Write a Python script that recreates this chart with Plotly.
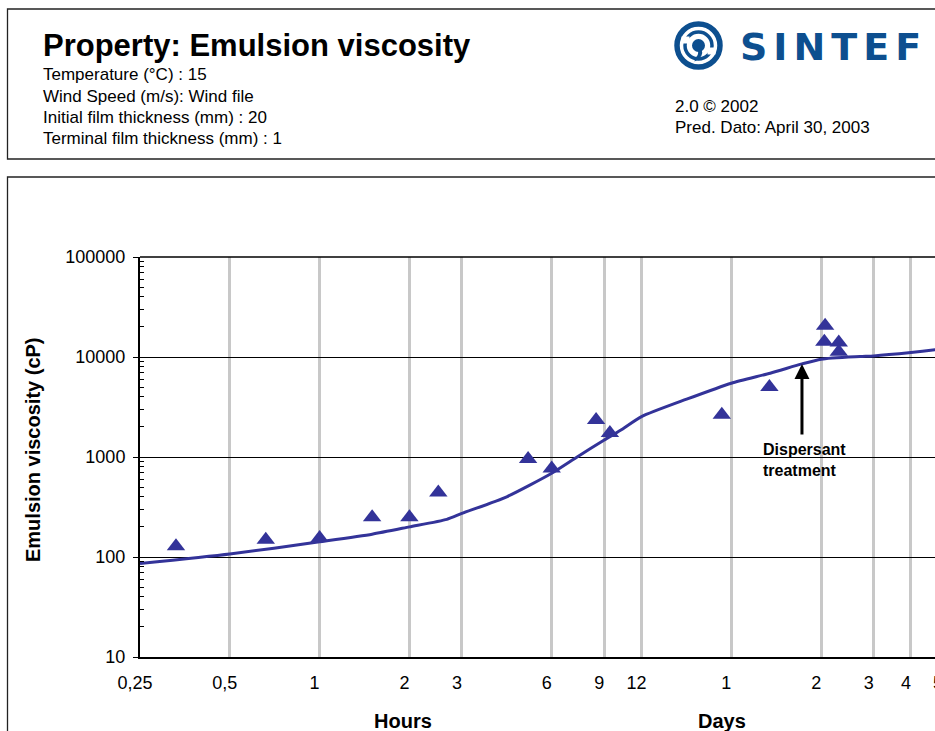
import math
import plotly.graph_objects as go

# ---------------- data ----------------
obs_hours = [0.33, 0.66, 1.0, 1.5, 2.0, 2.5, 5.0, 6.0, 8.45, 9.4, 22.3, 32.2, 49.5, 49.2, 55.0, 55.0]
obs_visc = [128, 149, 155, 250, 250, 441, 955, 767, 2349, 1739, 2653, 5023, 20500, 14190, 14000, 11270]

model_hours = [0.25, 0.5, 1.0, 1.5, 2.0, 2.67, 3.0, 4.24, 6.0, 7.3, 9.0, 10.2, 12.0, 17.0,
               24.0, 32.4, 41.4, 48.0, 64.8, 72.0, 96.0, 115.6, 124.0]
model_visc = [86, 107, 142, 169, 200, 238, 273, 400, 687, 1000, 1480, 1850, 2535, 3784,
              5470, 6886, 8530, 9510, 10100, 10260, 11090, 11800, 12000]

x_tick_vals = [0.25, 0.5, 1, 2, 3, 6, 9, 12, 24, 48, 72, 96, 120]
x_tick_text = ["0,25", "0,5", "1", "2", "3", "6", "9", "12", "1", "2", "3", "4", "5"]
y_tick_vals = [10, 100, 1000, 10000, 100000]
y_tick_text = ["10", "100", "1000", "10000", "100000"]

dispersant_hours = 41.4
dispersant_visc = 8530

title = "Property: Emulsion viscosity"
info_left = ["Temperature (°C) : 15", "Wind Speed (m/s): Wind file",
             "Initial film thickness (mm) : 20", "Terminal film thickness (mm) : 1"]
info_right = ["2.0 © 2002", "Pred. Dato: April 30, 2003"]

# ---------------- layout geometry (page px; body margin removed) ----------------
OFF = 0
W, H = 935, 731
ML, MR, MT, MB = 140 - OFF, 0, 257 - OFF, 74
PW = W - ML - MR
PH = H - MT - MB
X_MAX_H = 0.25 * 2 ** (PW / 89.8)   # hours at right edge of plot area

def px(x):
    return (x - OFF - ML) / PW

def py(y):
    return (H - MB - (y - OFF)) / PH

BLUE = "#333399"
LOGO = "#0d4f8f"
FONT = "Liberation Sans, Arial, sans-serif"

fig = go.Figure()

fig.add_trace(go.Scatter(
    x=model_hours, y=model_visc, mode="lines",
    line=dict(color=BLUE, width=3, shape="spline", smoothing=0.6),
    showlegend=False, hoverinfo="skip"))

fig.add_trace(go.Scatter(
    x=obs_hours, y=obs_visc, mode="markers",
    marker=dict(symbol="triangle-up", size=16, color=BLUE, line=dict(width=0)),
    showlegend=False))

minor_vals = [m * 10 ** d for d in range(1, 5) for m in range(2, 10)]

fig.update_xaxes(
    type="log",
    range=[math.log10(0.25), math.log10(X_MAX_H)],
    tickmode="array", tickvals=x_tick_vals, ticktext=x_tick_text,
    ticks="", showgrid=True, gridcolor="#c8c8c8", gridwidth=2.5,
    showline=True, linecolor="black", linewidth=2,
    tickfont=dict(family=FONT, size=18, color="black"),
    ticklabelshift=-5, ticklabelstandoff=8,
    zeroline=False,
)
fig.update_yaxes(
    type="log", range=[1, 5],
    tickmode="array", tickvals=y_tick_vals, ticktext=y_tick_text,
    ticks="outside", ticklen=5, tickcolor="black", tickwidth=1,
    showgrid=True, gridcolor="black", gridwidth=1,
    showline=True, linecolor="black", linewidth=2,
    tickfont=dict(family=FONT, size=18, color="black"),
    ticklabelstandoff=4,
    minor=dict(tickmode="array", tickvals=minor_vals, ticks="inside",
               ticklen=4, tickcolor="black", tickwidth=1, showgrid=False),
    zeroline=False,
)

shapes = []
# outer frames
shapes.append(dict(type="rect", xref="paper", yref="paper",
                   x0=px(7.5), x1=px(990), y0=py(9), y1=py(159),
                   line=dict(color="#222222", width=1.3), fillcolor="rgba(0,0,0,0)", layer="below"))
shapes.append(dict(type="rect", xref="paper", yref="paper",
                   x0=px(7.5), x1=px(990), y0=py(177), y1=py(800),
                   line=dict(color="#222222", width=1.3), fillcolor="rgba(0,0,0,0)", layer="below"))
# top line of plot at 100000
shapes.append(dict(type="line", xref="paper", yref="paper", x0=0, x1=1, y0=1, y1=1,
                   line=dict(color="black", width=1.5)))

# logo icon
cx, cy = 698.5, 45.5
def circ(r, **kw):
    d = dict(type="circle", xref="paper", yref="paper",
             x0=px(cx - r), x1=px(cx + r), y0=py(cy + r), y1=py(cy - r))
    d.update(kw)
    return d

shapes.append(circ(21.5, line=dict(color=LOGO, width=5.5), fillcolor="white"))
shapes.append(circ(13.5, line=dict(color=LOGO, width=3.5), fillcolor="white"))
shapes.append(circ(6.5, line=dict(width=0), fillcolor=LOGO))
# swirl gaps
shapes.append(dict(type="rect", xref="paper", yref="paper",
                   x0=px(cx - 17), x1=px(cx - 9), y0=py(cy - 2), y1=py(cy - 9),
                   line=dict(width=0), fillcolor="white"))
shapes.append(dict(type="rect", xref="paper", yref="paper",
                   x0=px(cx + 9), x1=px(cx + 17), y0=py(cy + 9), y1=py(cy + 2),
                   line=dict(width=0), fillcolor="white"))
shapes.append(dict(type="path", xref="paper", yref="paper",
                   path=f"M {px(cx+3)} {py(cy+3)} Q {px(cx+6)} {py(cy+12)} {px(cx-4)} {py(cy+16)} "
                        f"L {px(cx-3)} {py(cy+12)} Q {px(cx+1)} {py(cy+9)} {px(cx-1)} {py(cy+4)} Z",
                   line=dict(width=0), fillcolor=LOGO))

annotations = []
annotations.append(dict(xref="paper", yref="paper", x=px(41), y=py(45), xanchor="left", yanchor="middle",
                        text="<b>" + title + "</b>", showarrow=False,
                        font=dict(family=FONT, size=31, color="black")))
for i, t in enumerate(info_left):
    annotations.append(dict(xref="paper", yref="paper", x=px(41), y=py(75 + 21.3 * i),
                            xanchor="left", yanchor="middle", text=t, showarrow=False,
                            font=dict(family=FONT, size=17, color="black")))
for i, t in enumerate(info_right):
    annotations.append(dict(xref="paper", yref="paper", x=px(673), y=py(106 + 21 * i),
                            xanchor="left", yanchor="middle", text=t, showarrow=False,
                            font=dict(family=FONT, size=17, color="black")))
annotations.append(dict(xref="paper", yref="paper", x=px(738), y=py(47), xanchor="left", yanchor="middle",
                        text='<b><span style="letter-spacing:6px">SINTEF</span></b>', showarrow=False,
                        font=dict(family="DejaVu Sans, Arial Black, sans-serif", size=38, color=LOGO)))
# last day label (tick lies just past the visible edge)
annotations.append(dict(xref="paper", yref="paper", x=px(931), y=py(683), xanchor="left", yanchor="middle",
                        text=x_tick_text[-1], showarrow=False,
                        font=dict(family=FONT, size=18, color="black")))
# axis titles
annotations.append(dict(xref="paper", yref="paper", x=px(33), y=py(450), textangle=-90,
                        xanchor="center", yanchor="middle", text="<b>Emulsion viscosity (cP)</b>",
                        showarrow=False, font=dict(family=FONT, size=20, color="black")))
annotations.append(dict(xref="paper", yref="paper", x=px(403), y=py(721), xanchor="center", yanchor="middle",
                        text="<b>Hours</b>", showarrow=False, font=dict(family=FONT, size=20, color="black")))
annotations.append(dict(xref="paper", yref="paper", x=px(722), y=py(721), xanchor="center", yanchor="middle",
                        text="<b>Days</b>", showarrow=False, font=dict(family=FONT, size=20, color="black")))
# dispersant arrow
annotations.append(dict(xref="x", yref="y", x=math.log10(dispersant_hours), y=math.log10(dispersant_visc),
                        ax=0, ay=72, axref="pixel", ayref="pixel", showarrow=True,
                        arrowhead=2, arrowsize=1, arrowwidth=3, arrowcolor="black", text=""))
annotations.append(dict(xref="paper", yref="paper", x=px(761), y=py(460), xanchor="left", yanchor="middle",
                        align="left", text="<b>Dispersant<br>treatment</b>", showarrow=False,
                        font=dict(family=FONT, size=16, color="black")))

fig.update_layout(
    width=W, height=H,
    margin=dict(l=ML, r=MR, t=MT, b=MB, pad=0),
    paper_bgcolor="white", plot_bgcolor="white",
    shapes=shapes, annotations=annotations,
    font=dict(family=FONT),
    showlegend=False,
)

fig.write_html("out.html",
               config={"displayModeBar": False},
               post_script="document.body.style.margin='0';"
                           "document.documentElement.style.overflow='hidden';")
